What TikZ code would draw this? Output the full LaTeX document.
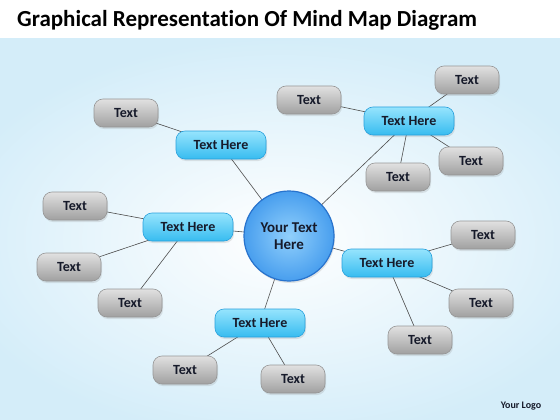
\documentclass[tikz,border=0pt]{standalone}
\usepackage{fontspec}
\setmainfont{Carlito}[RawFeature={-liga;-clig;-calt;-dlig}]
\usetikzlibrary{shadows}

\definecolor{bgedge}{RGB}{212,237,249}
\definecolor{txtdark}{RGB}{22,26,42}
\definecolor{hubin}{RGB}{145,208,252}
\definecolor{hubout}{RGB}{72,158,238}
\definecolor{hubline}{RGB}{40,115,205}
\definecolor{subtop}{RGB}{150,228,253}
\definecolor{subbot}{RGB}{55,188,240}
\definecolor{subline}{RGB}{40,160,220}
\definecolor{leaftop}{RGB}{225,225,225}
\definecolor{leafbot}{RGB}{160,160,160}
\definecolor{leafline}{RGB}{150,150,150}

\tikzset{
  hub/.style={circle, draw=hubline, line width=1.2pt, inner color=hubin, outer color=hubout,
    minimum size=90pt, align=center, text=txtdark, font=\bfseries\fontsize{15}{18}\selectfont,
    drop shadow={opacity=0.2, shadow xshift=1pt, shadow yshift=-2pt}},
  topic/.style={rectangle, rounded corners=9pt, draw=subline, line width=0.6pt,
    top color=subtop, bottom color=subbot, minimum width=90pt, minimum height=28pt,
    text=txtdark, font=\bfseries\fontsize{14}{16}\selectfont,
    drop shadow={opacity=0.2, shadow xshift=1pt, shadow yshift=-2pt}},
  leaf/.style={rectangle, rounded corners=9pt, draw=leafline, line width=0.6pt,
    top color=leaftop, bottom color=leafbot, minimum width=64pt, minimum height=28pt,
    text=txtdark, font=\bfseries\fontsize{14}{16}\selectfont,
    drop shadow={opacity=0.2, shadow xshift=1pt, shadow yshift=-2pt}},
  link/.style={draw=black!70, line width=0.6pt}
}

\begin{document}
\begin{tikzpicture}[x=1pt, y=-1pt]
    % background
    \useasboundingbox (0,0) rectangle (560,420);
    \fill[inner color=white, outer color=bgedge] (-60,38) rectangle (620,440);
    \fill[white] (0,0) rectangle (560,38);
    \node[anchor=base west, text=black, font=\bfseries\fontsize{23}{26}\selectfont, inner sep=0pt] (title) at (17,27) {Graphical Representation Of Mind Map Diagram};

    % links first, nodes on top
    \coordinate (c) at (289,236);
    \coordinate (tl) at (221,145);
    \coordinate (tr) at (409,121);
    \coordinate (lf) at (188,227);
    \coordinate (rt) at (387,263);
    \coordinate (bt) at (260,323);

    \draw[link] (c) -- (tl);
    \draw[link] (c) -- (tr);
    \draw[link] (c) -- (lf);
    \draw[link] (c) -- (rt);
    \draw[link] (c) -- (bt);

    \draw[link] (tl) -- (126,113);
    \draw[link] (tr) -- (309,100);
    \draw[link] (tr) -- (467,80);
    \draw[link] (tr) -- (471,161);
    \draw[link] (tr) -- (398,177);
    \draw[link] (lf) -- (75,206);
    \draw[link] (lf) -- (69,267);
    \draw[link] (lf) -- (130,303);
    \draw[link] (rt) -- (483,235);
    \draw[link] (rt) -- (481,303);
    \draw[link] (rt) -- (420,340);
    \draw[link] (bt) -- (185,370);
    \draw[link] (bt) -- (293,379);

    % center
    \node[hub] (center) at (c) {Your Text\\[-1pt]Here};

    % topics
    \node[topic] (topicTL) at (tl) {Text Here};
    \node[topic] (topicTR) at (tr) {Text Here};
    \node[topic] (topicL) at (lf) {Text Here};
    \node[topic] (topicR) at (rt) {Text Here};
    \node[topic] (topicB) at (bt) {Text Here};

    % leaves
    \node[leaf] (leafTLa) at (126,113) {Text};
    \node[leaf] (leafTRa) at (309,100) {Text};
    \node[leaf] (leafTRb) at (467,80) {Text};
    \node[leaf] (leafTRc) at (471,161) {Text};
    \node[leaf] (leafTRd) at (398,177) {Text};
    \node[leaf] (leafLa) at (75,206) {Text};
    \node[leaf] (leafLb) at (69,267) {Text};
    \node[leaf] (leafLc) at (130,303) {Text};
    \node[leaf] (leafRa) at (483,235) {Text};
    \node[leaf] (leafRb) at (481,303) {Text};
    \node[leaf] (leafRc) at (420,340) {Text};
    \node[leaf] (leafBa) at (185,370) {Text};
    \node[leaf] (leafBb) at (293,379) {Text};

    \node[text=txtdark, font=\bfseries\fontsize{10}{12}\selectfont] (logo) at (521,406) {Your Logo};
\end{tikzpicture}
\end{document}
